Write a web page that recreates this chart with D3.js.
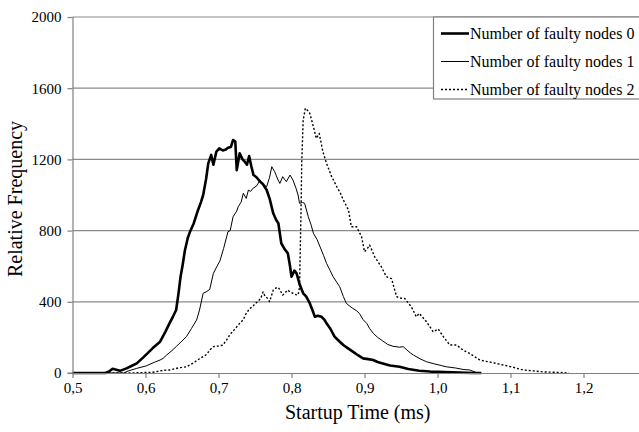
<!DOCTYPE html>
<html>
<head>
<meta charset="utf-8">
<script src="https://cdn.jsdelivr.net/npm/d3@7/dist/d3.min.js"></script>
<style>
  html, body { margin: 0; padding: 0; background: #fff; }
  svg { display: block; }
  text { font-family: "Liberation Serif", "Times New Roman", serif; fill: #000; }
</style>
</head>
<body>
<svg id="chart" width="639" height="432"></svg>
<script>
// ---- data ----
const seriesNames = ["Number of faulty nodes 0", "Number of faulty nodes 1", "Number of faulty nodes 2"];
const xTicks = [0.5, 0.6, 0.7, 0.8, 0.9, 1.0, 1.1, 1.2, 1.3];
const xTickLabels = ["0,5", "0,6", "0,7", "0,8", "0,9", "1,0", "1,1", "1,2", "1,3"];
const yTicks = [0, 400, 800, 1200, 1600, 2000];
const yTickLabels = ["0", "400", "800", "1200", "1600", "2000"];

// [startup time (ms), relative frequency]
const faulty0 = [
  [0.5,0],[0.545,0],[0.550,8],[0.555,24],[0.560,18],[0.565,12],[0.574,26],[0.580,38],[0.588,54],
  [0.597,88],[0.603,112],[0.610,140],[0.620,176],[0.627,230],[0.633,280],[0.638,320],[0.642,354],
  [0.645,440],[0.648,540],[0.651,610],[0.654,690],[0.658,760],[0.661,794],[0.666,840],[0.672,916],
  [0.676,960],[0.679,1000],[0.683,1090],[0.686,1178],[0.690,1225],[0.693,1170],[0.697,1243],
  [0.701,1262],[0.706,1250],[0.710,1255],[0.713,1265],[0.717,1270],[0.720,1309],[0.723,1300],
  [0.725,1140],[0.729,1234],[0.733,1200],[0.736,1187],[0.739,1170],[0.742,1219],[0.745,1160],
  [0.748,1112],[0.752,1100],[0.757,1075],[0.761,1060],[0.766,1028],[0.770,980],[0.775,897],
  [0.779,860],[0.782,841],[0.786,729],[0.790,700],[0.795,672],[0.798,600],[0.800,541],[0.804,575],
  [0.807,560],[0.811,500],[0.816,448],[0.820,430],[0.825,392],[0.829,350],[0.832,316],[0.836,322],
  [0.841,316],[0.845,300],[0.848,279],[0.853,250],[0.859,204],[0.865,180],[0.871,157],[0.877,140],
  [0.884,120],[0.891,100],[0.898,82],[0.905,78],[0.912,73],[0.918,62],[0.925,54],[0.935,42],
  [0.948,35],[0.960,22],[0.975,13],[0.990,8],[1.010,5],[1.030,2],[1.050,0],[1.060,0]
];
const faulty1 = [
  [0.5,0],[0.570,0],[0.576,11],[0.588,26],[0.601,40],[0.612,60],[0.620,73],[0.624,82],[0.629,101],
  [0.636,125],[0.642,148],[0.650,180],[0.656,204],[0.663,250],[0.670,298],[0.674,354],[0.679,448],
  [0.684,458],[0.688,470],[0.693,560],[0.698,600],[0.702,630],[0.707,700],[0.713,794],[0.716,800],
  [0.720,878],[0.725,910],[0.727,934],[0.731,960],[0.734,1010],[0.738,981],[0.741,1028],[0.744,1020],
  [0.747,1037],[0.752,1050],[0.757,1084],[0.761,1056],[0.766,1047],[0.770,1100],[0.773,1159],
  [0.777,1131],[0.781,1090],[0.784,1065],[0.788,1103],[0.791,1085],[0.793,1075],[0.798,1112],
  [0.802,1084],[0.806,1040],[0.809,1000],[0.811,953],[0.815,958],[0.818,953],[0.823,878],[0.827,830],
  [0.830,785],[0.835,750],[0.839,710],[0.844,660],[0.848,616],[0.853,575],[0.857,541],[0.862,510],
  [0.866,485],[0.871,430],[0.875,392],[0.880,375],[0.884,363],[0.889,350],[0.893,335],[0.898,300],
  [0.903,279],[0.907,250],[0.912,223],[0.918,200],[0.925,180],[0.932,160],[0.939,150],[0.948,145],
  [0.953,148],[0.958,130],[0.963,112],[0.967,101],[0.976,80],[0.985,63],[0.995,52],[1.005,42],
  [1.012,35],[1.025,28],[1.035,20],[1.044,17],[1.053,3],[1.060,0]
];
const faulty2 = [
  [0.5,0],[0.580,0],[0.610,4],[0.624,15],[0.633,17],[0.647,30],[0.656,35],[0.665,55],[0.674,80],
  [0.684,105],[0.688,130],[0.693,148],[0.700,152],[0.706,157],[0.711,185],[0.716,218],[0.722,245],
  [0.729,279],[0.734,300],[0.738,335],[0.743,363],[0.747,373],[0.750,390],[0.754,401],[0.758,420],
  [0.761,455],[0.764,430],[0.767,420],[0.770,401],[0.775,466],[0.779,478],[0.782,481],[0.785,460],
  [0.788,438],[0.791,450],[0.795,466],[0.798,455],[0.802,448],[0.806,440],[0.809,438],[0.811,480],
  [0.813,900],[0.814,1178],[0.816,1421],[0.819,1487],[0.822,1475],[0.825,1459],[0.830,1384],
  [0.834,1318],[0.838,1346],[0.843,1243],[0.848,1178],[0.855,1103],[0.862,1047],[0.867,1010],
  [0.871,972],[0.878,916],[0.882,822],[0.889,822],[0.896,766],[0.900,681],[0.904,700],[0.907,719],
  [0.914,653],[0.923,597],[0.930,541],[0.937,530],[0.944,429],[0.950,420],[0.955,419],[0.964,373],
  [0.971,316],[0.975,335],[0.985,288],[0.994,232],[1.001,247],[1.008,204],[1.017,157],[1.026,157],
  [1.035,129],[1.044,110],[1.058,73],[1.067,65],[1.076,58],[1.090,45],[1.104,32],[1.117,17],
  [1.131,12],[1.145,6],[1.167,3],[1.180,0]
];
const allSeries = [faulty0, faulty1, faulty2];

// ---- styles ----
const styles = [
  { width: 2.6, dash: null },
  { width: 1.0, dash: null },
  { width: 1.4, dash: "2,2" }
];

const svg = d3.select("#chart");
const x = d3.scaleLinear().domain([0.5, 1.3]).range([72.5, 656.5]);
const y = d3.scaleLinear().domain([0, 2000]).range([373, 17]);

// gridlines
svg.append("g").selectAll("line")
  .data(yTicks.filter(d => d > 0))
  .join("line")
  .attr("x1", x(0.5)).attr("x2", 639)
  .attr("y1", d => y(d)).attr("y2", d => y(d))
  .attr("stroke", "#8a8a8a").attr("stroke-width", 1.2);

// lines
const line = d3.line().x(d => x(d[0])).y(d => y(d[1]));
allSeries.forEach((s, i) => {
  svg.append("path")
    .datum(s)
    .attr("d", line)
    .attr("fill", "none")
    .attr("stroke", "#000")
    .attr("stroke-width", styles[i].width)
    .attr("stroke-linejoin", "round")
    .attr("stroke-dasharray", styles[i].dash);
});

// axes
const yAxis = svg.append("g")
  .attr("transform", `translate(${x(0.5)},0)`)
  .call(d3.axisLeft(y).tickValues(yTicks).tickSize(5).tickPadding(6)
    .tickFormat((d, i) => yTickLabels[i]));
const xAxis = svg.append("g")
  .attr("transform", `translate(0,${y(0)})`)
  .call(d3.axisBottom(x).tickValues(xTicks.slice(0, 8)).tickSize(5).tickPadding(4.5)
    .tickFormat((d, i) => xTickLabels[i]));
[yAxis, xAxis].forEach(a => {
  a.attr("font-family", null);
  a.select(".domain").attr("stroke", "#808080").attr("stroke-width", 1.2);
  a.selectAll(".tick line").attr("stroke", "#808080").attr("stroke-width", 1.2);
  a.selectAll(".tick text").style("font-family", '"Liberation Serif", "Times New Roman", serif')
    .style("font-size", "15px").attr("fill", "#000");
});
xAxis.select(".domain").attr("d", `M${x(0.5)},0.5H639`);
yAxis.select(".domain").attr("d", `M-5,${y(0)}H0.5V${y(2000)}`);

// titles
svg.append("text")
  .attr("x", (x(0.5) + 639) / 2 + 2).attr("y", 419)
  .attr("text-anchor", "middle")
  .style("font-size", "20px")
  .text("Startup Time (ms)");
svg.append("text")
  .attr("transform", `translate(22,${(y(0) + y(2000)) / 2 + 4}) rotate(-90)`)
  .attr("text-anchor", "middle")
  .style("font-size", "20px")
  .text("Relative Frequency");

// legend
const lg = svg.append("g").attr("transform", "translate(433,17)");
lg.append("rect").attr("x", 0.5).attr("y", 0).attr("width", 260).attr("height", 82)
  .attr("fill", "#fff").attr("stroke", "#808080").attr("stroke-width", 1.2);
seriesNames.forEach((name, i) => {
  const cy = 16.5 + i * 28;
  lg.append("line").attr("x1", 8).attr("x2", 36).attr("y1", cy).attr("y2", cy)
    .attr("stroke", "#000").attr("stroke-width", styles[i].width)
    .attr("stroke-dasharray", styles[i].dash);
  lg.append("text").attr("x", 37).attr("y", cy + 5.5)
    .style("font-size", "16px").text(name);
});
</script>
</body>
</html>
